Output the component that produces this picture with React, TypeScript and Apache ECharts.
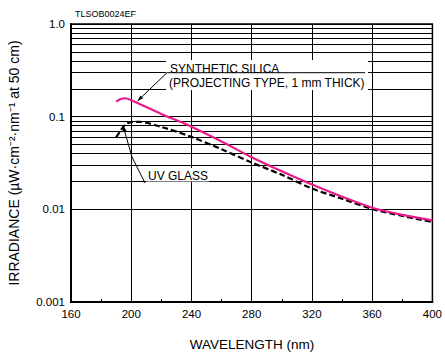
import { useEffect, useRef } from "react";
import * as echarts from "echarts";

// Axis ticks
const wavelengthTicks = [160, 200, 240, 280, 320, 360, 400];
const irradianceTickLabels = ["0.001", "0.01", "0.1", "1.0"];
const decadeStarts = [0.001, 0.01, 0.1];
const minorMultipliers = [2, 3, 4, 5, 6, 7, 8, 9];

// Synthetic silica (projecting type, 1 mm thick)
const silicaWl = [190, 193, 196, 200, 220, 240, 260, 280, 300, 320, 340, 360, 380, 400];
const silicaVal = [0.145, 0.155, 0.158, 0.15, 0.107, 0.078, 0.054, 0.0365, 0.0257, 0.0185, 0.0137, 0.0104, 0.0087, 0.0076];

// UV glass
const uvWl = [190, 193, 196, 200, 205, 220, 240, 260, 280, 300, 320, 340, 360, 380, 400];
const uvVal = [0.06, 0.071, 0.082, 0.0875, 0.088, 0.0775, 0.0605, 0.0445, 0.032, 0.0236, 0.0168, 0.013, 0.0101, 0.0085, 0.0073];

const FONT = "'Liberation Sans', Arial, Helvetica, sans-serif";

function arrowHead(tip: number[], from: number[], len = 6, half = 2) {
  const dx = tip[0] - from[0];
  const dy = tip[1] - from[1];
  const d = Math.sqrt(dx * dx + dy * dy);
  const ux = dx / d;
  const uy = dy / d;
  const bx = tip[0] - ux * len;
  const by = tip[1] - uy * len;
  const px = -uy;
  const py = ux;
  return [tip, [bx + px * half, by + py * half], [bx - px * half, by - py * half]];
}

export default function App() {
  const ref = useRef<HTMLDivElement>(null);

  useEffect(() => {
    if (!ref.current) return;
    const chart = echarts.init(ref.current, null, { renderer: "svg" });

    const minorValues: number[] = [];
    decadeStarts.forEach((d) => minorMultipliers.forEach((m) => minorValues.push(d * m)));

    const leader1 = [[167, 72.7], [137.5, 101]];
    const leader2 = [[145, 183], [132, 157], [123, 125.5]];

    chart.setOption({
      animation: false,
      backgroundColor: "#fff",
      textStyle: { fontFamily: FONT },
      grid: {
        left: 71,
        right: 11,
        top: 24,
        bottom: 52,
        show: true,
        borderColor: "#000",
        borderWidth: 1.5,
        backgroundColor: "transparent",
      },
      xAxis: {
        type: "value",
        min: wavelengthTicks[0],
        max: wavelengthTicks[wavelengthTicks.length - 1],
        interval: 40,
        axisLine: { lineStyle: { color: "#000", width: 2 } },
        axisTick: { show: true, inside: true, length: 3, lineStyle: { color: "#000" } },
        minorTick: { show: true, splitNumber: 2, length: 3, lineStyle: { color: "#000", width: 1 } },
        splitLine: { show: true, lineStyle: { color: "#000", width: 1 } },
        axisLabel: { color: "#000", fontSize: 11.5, margin: 6, fontFamily: FONT },
      },
      yAxis: {
        type: "log",
        logBase: 10,
        min: 0.001,
        max: 1,
        axisLine: { show: true, lineStyle: { color: "#000", width: 2 } },
        axisTick: { show: false },
        splitLine: { show: true, lineStyle: { color: "#000", width: 1 } },
        axisLabel: {
          color: "#000",
          fontSize: 11.5,
          margin: 6,
          fontFamily: FONT,
          formatter: (v: number) => {
            const idx = Math.round(Math.log10(v)) + 3;
            return irradianceTickLabels[idx] ?? "";
          },
        },
      },
      series: [
        {
          type: "line",
          data: [],
          z: 1,
          silent: true,
          markLine: {
            silent: true,
            symbol: "none",
            label: { show: false },
            lineStyle: { color: "#000", width: 1, type: "solid" },
            data: minorValues.map((v) => ({ yAxis: v })),
          },
        },
        {
          name: "UV GLASS",
          type: "line",
          z: 4,
          smooth: 0.3,
          showSymbol: false,
          lineStyle: { color: "#000", width: 2.2, type: [6, 3] },
          data: uvWl.map((w, i) => [w, uvVal[i]]),
        },
        {
          name: "SYNTHETIC SILICA",
          type: "line",
          z: 5,
          smooth: 0.3,
          showSymbol: false,
          lineStyle: { color: "#e8198b", width: 2.2 },
          data: silicaWl.map((w, i) => [w, silicaVal[i]]),
        },
      ],
      graphic: [
        {
          type: "text",
          x: 75,
          y: 14,
          style: { text: "TLSOB0024EF", fill: "#000", font: `9px ${FONT}`, verticalAlign: "middle" },
        },
        {
          type: "text",
          x: 14,
          y: 163,
          rotation: Math.PI / 2,
          style: {
            text: "IRRADIANCE (µW·cm⁻²·nm⁻¹ at 50 cm)",
            font: `14px ${FONT}`,
            fill: "#000",
            align: "center",
            verticalAlign: "middle",
          },
        },
        {
          type: "text",
          x: 252,
          y: 344,
          style: {
            text: "WAVELENGTH (nm)",
            font: `13.5px ${FONT}`,
            fill: "#000",
            align: "center",
            verticalAlign: "middle",
          },
        },
        // annotation 1 box
        {
          type: "rect",
          z: 20,
          shape: { x: 166, y: 60, width: 202, height: 30 },
          style: { fill: "#fff" },
        },
        {
          type: "line",
          z: 21,
          shape: { x1: 167, y1: 72.7, x2: 365, y2: 72.7 },
          style: { stroke: "#000", lineWidth: 1 },
        },
        {
          type: "text",
          z: 22,
          x: 170,
          y: 68.5,
          style: { text: "SYNTHETIC SILICA", font: `12px ${FONT}`, fill: "#000", verticalAlign: "middle" },
        },
        {
          type: "text",
          z: 22,
          x: 169,
          y: 82.5,
          style: { text: "(PROJECTING TYPE, 1 mm THICK)", font: `12px ${FONT}`, fill: "#000", verticalAlign: "middle" },
        },
        {
          type: "polyline",
          z: 21,
          shape: { points: leader1 },
          style: { stroke: "#000", lineWidth: 1, fill: null },
        },
        {
          type: "polygon",
          z: 21,
          shape: { points: arrowHead(leader1[1], leader1[0]) },
          style: { fill: "#000" },
        },
        // annotation 2
        {
          type: "rect",
          z: 20,
          shape: { x: 146, y: 168, width: 63, height: 13.5 },
          style: { fill: "#fff" },
        },
        {
          type: "text",
          z: 22,
          x: 148,
          y: 176,
          style: { text: "UV GLASS", font: `12px ${FONT}`, fill: "#000", verticalAlign: "middle" },
        },
        {
          type: "polyline",
          z: 21,
          shape: { points: leader2 },
          style: { stroke: "#000", lineWidth: 1, fill: null },
        },
        {
          type: "polygon",
          z: 21,
          shape: { points: arrowHead(leader2[2], leader2[1]) },
          style: { fill: "#000" },
        },
      ],
    });

    return () => chart.dispose();
  }, []);

  return (
    <div
      ref={ref}
      style={{ position: "fixed", left: 0, top: 0, width: 445, height: 354, background: "#fff" }}
    />
  );
}
